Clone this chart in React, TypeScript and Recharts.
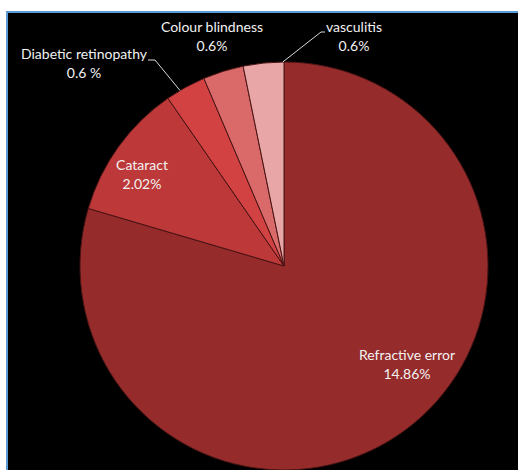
import { Cell, Pie, PieChart } from "recharts"

const causes = ["Refractive error", "Cataract", "Diabetic retinopathy", "Colour blindness", "vasculitis"]
const shares = [14.86, 2.02, 0.6, 0.6, 0.6]
const shareLabels = ["14.86%", "2.02%", "0.6 %", "0.6%", "0.6%"]
const sliceColors = ["#962b2b", "#bd3838", "#d24242", "#da6a6a", "#e9a6a6"]

const data = causes.map((name, i) => ({ name, value: shares[i], label: shareLabels[i] }))

// label placement (offset from pie centre) and leader line anchors, Excel-style manual layout
const labelOffsets = [
  { dx: 123, dy: 94 },
  { dx: -142, dy: -96 },
  { dx: -200, dy: -207 },
  { dx: -72, dy: -234 },
  { dx: 70, dy: -234 },
]
const leaderAt: (number | null)[] = [null, null, 0.35, null, 0.97]

const RAD = Math.PI / 180

function renderLabel(props: any) {
  const { cx, cy, outerRadius, startAngle, endAngle, index, payload } = props
  const pos = labelOffsets[index]
  const x = cx + pos.dx
  const y = cy + pos.dy
  const t = leaderAt[index]
  let line = null
  if (t !== null) {
    const a = startAngle + (endAngle - startAngle) * t
    const ex = cx + outerRadius * Math.cos(-a * RAD)
    const ey = cy + outerRadius * Math.sin(-a * RAD)
    const sx = index === 2 ? x + 64 : x - 29
    const sy = index === 2 ? y + 1 : y
    const kx = index === 2 ? sx + 7 : sx - 4
    line = (
      <polyline
        points={`${sx},${sy} ${kx},${sy} ${ex},${ey}`}
        fill="none"
        stroke="#d9d9d9"
        strokeWidth={1}
      />
    )
  }
  return (
    <g>
      {line}
      <text
        x={x}
        y={y}
        textAnchor="middle"
        fill="#f2f2f2"
        fontSize={14}
        fontFamily="Lato, 'Open Sans', sans-serif"
      >
        <tspan x={x} dy={0}>{payload.name}</tspan>
        <tspan x={x} dy={19}>{payload.label}</tspan>
      </text>
    </g>
  )
}

export default function App() {
  return (
    <div style={{ position: "fixed", left: 0, top: 0, width: 518, height: 470, background: "#fff" }}>
      <div
        style={{
          position: "absolute",
          left: 6,
          top: 11,
          width: 512,
          height: 459,
          background: "#000",
          borderTop: "2px solid #5b9bd5",
          borderLeft: "2px solid #5b9bd5",
          boxSizing: "border-box",
        }}
      />
      <div style={{ position: "absolute", left: 0, top: 0 }}>
        <PieChart width={518} height={470} margin={{ top: 0, right: 0, bottom: 0, left: 0 }}>
          <Pie
            data={data}
            dataKey="value"
            nameKey="name"
            cx={284}
            cy={266}
            outerRadius={204}
            startAngle={90}
            endAngle={-270}
            stroke="#4a1414"
            strokeWidth={1}
            label={renderLabel}
            labelLine={false}
            isAnimationActive={false}
          >
            {data.map((entry, i) => (
              <Cell key={entry.name} fill={sliceColors[i]} />
            ))}
          </Pie>
        </PieChart>
      </div>
    </div>
  )
}
